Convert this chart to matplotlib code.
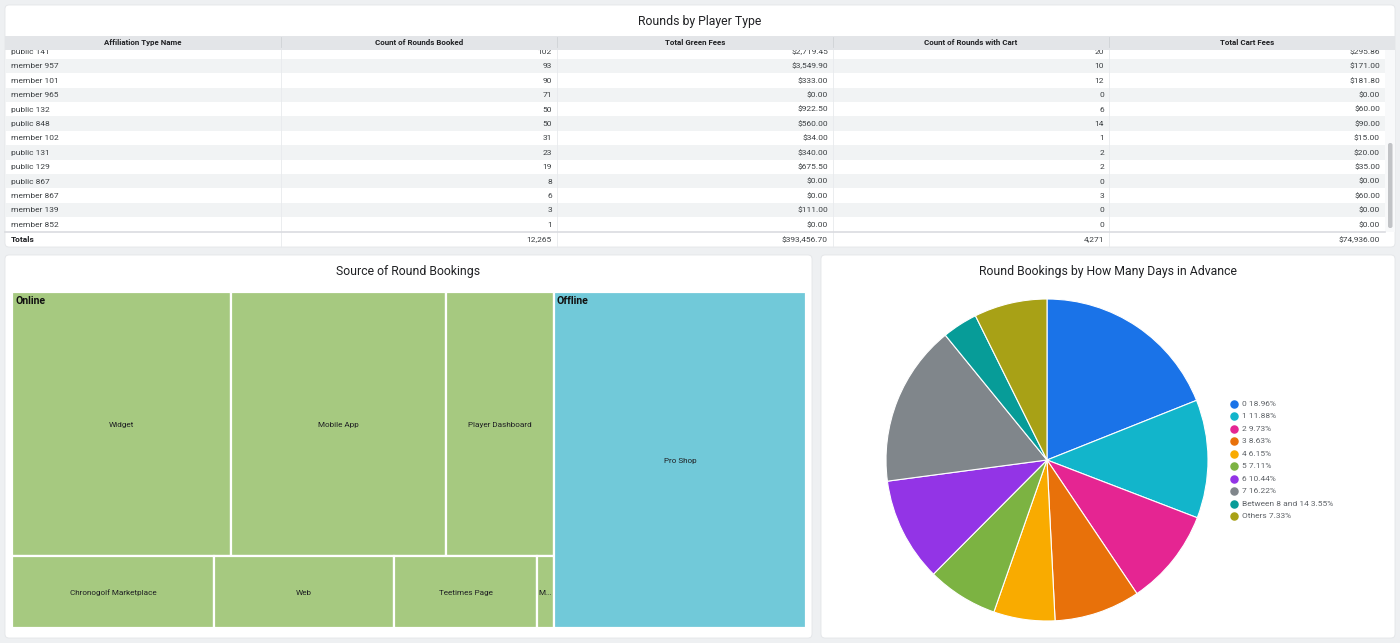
import matplotlib
matplotlib.use("Agg")
import matplotlib.pyplot as plt
from matplotlib.patches import FancyBboxPatch, Rectangle

plt.rcParams['font.family'] = ['Roboto', 'DejaVu Sans']

# ---- table data ----
headers = ["Affiliation Type Name", "Count of Rounds Booked", "Total Green Fees",
           "Count of Rounds with Cart", "Total Cart Fees"]
names = ["public 141", "member 957", "member 101", "member 965", "public 132", "public 848",
         "member 102", "public 131", "public 129", "public 867", "member 867", "member 139",
         "member 852"]
rounds = [102, 93, 90, 71, 50, 50, 31, 23, 19, 8, 6, 3, 1]
green_fees = [2719.45, 3549.90, 333.00, 0.00, 922.50, 560.00, 34.00, 340.00, 675.50,
              0.00, 0.00, 111.00, 0.00]
cart_rounds = [20, 10, 12, 0, 6, 14, 1, 2, 2, 0, 3, 0, 0]
cart_fees = [295.86, 171.00, 181.80, 0.00, 60.00, 90.00, 15.00, 20.00, 35.00,
             0.00, 60.00, 0.00, 0.00]
totals = ["Totals", "12,265", "$393,456.70", "4,271", "$74,936.00"]

# ---- treemap data ----
online_rows = [["Widget", "Mobile App", "Player Dashboard"],
               ["Chronogolf Marketplace", "Web", "Teetimes Page", "M..."]]
online_vals = [[2659, 2610, 1311], [668, 595, 473, 56]]
offline_labels = ["Pro Shop"]
offline_vals = [3893]

# ---- pie data ----
pie_labels = ["0", "1", "2", "3", "4", "5", "6", "7", "Between 8 and 14", "Others"]
pie_pct = [18.96, 11.88, 9.73, 8.63, 6.15, 7.11, 10.44, 16.22, 3.55, 7.33]
pie_colors = ["#1a73e8", "#12b5cb", "#e52592", "#e8710a", "#f9ab00", "#7cb342",
              "#9334e6", "#80868b", "#079c98", "#a8a116"]

W, H = 1400, 643
fig = plt.figure(figsize=(W / 100, H / 100), dpi=100, facecolor="#eef0f2")
bg = fig.add_axes([0, 0, 1, 1])
bg.set_xlim(0, W)
bg.set_ylim(H, 0)
bg.axis("off")

def panel(x0, y0, x1, y1):
    bg.add_patch(FancyBboxPatch((x0, y0), x1 - x0, y1 - y0,
                                boxstyle="round,pad=0,rounding_size=4",
                                fc="white", ec="#e3e5e8", lw=0.6, zorder=1))

panel(5, 5, 1395, 247)
panel(5, 255, 812, 638)
panel(821, 255, 1395, 638)

title_kw = dict(ha="center", va="center", fontsize=8.8, color="#202124", zorder=10)
bg.text(700, 21.5, "Rounds by Player Type", **title_kw)
bg.text(408, 271.5, "Source of Round Bookings", **title_kw)
bg.text(1108, 271.5, "Round Bookings by How Many Days in Advance", **title_kw)

# ---- table ----
col_edges = [5, 281, 557, 833, 1109, 1385]
row_h = 14.41
first_y = 51.6
txt = dict(fontsize=6.0, color="#3c4043", va="center", zorder=4)

def money(v):
    return "${:,.2f}".format(v)

for i, name in enumerate(names):
    yc = first_y + i * row_h
    if i % 2 == 1:
        bg.add_patch(Rectangle((5, yc - row_h / 2), 1380, row_h, fc="#f1f3f4",
                               ec="none", zorder=2))
    cells = [name, str(rounds[i]), money(green_fees[i]), str(cart_rounds[i]),
             money(cart_fees[i])]
    for j, c in enumerate(cells):
        if j == 0:
            bg.text(col_edges[0] + 6, yc + 0.3, c, ha="left", **txt)
        else:
            bg.text(col_edges[j + 1] - 5, yc + 0.3, c, ha="right", **txt)

for x in col_edges[1:-1]:
    bg.plot([x, x], [36, 247], color="#e8eaed", lw=0.6, zorder=3)

# header (drawn on top, hides the scrolled row)
bg.add_patch(Rectangle((5, 35.5), 1390, 14.3, fc="#e3e5e8", ec="none", zorder=5))
for j, h in enumerate(headers):
    xc = (col_edges[j] + col_edges[j + 1]) / 2
    bg.text(xc, 42.5, h, ha="center", va="center", fontsize=5.7, fontweight="bold",
            color="#202124", zorder=6)
for x in col_edges[1:-1]:
    bg.plot([x, x], [37, 47], color="#cfd2d6", lw=0.6, zorder=6)

# totals
bg.plot([5, 1385], [232, 232], color="#dadce0", lw=1.2, zorder=4)
for j, c in enumerate(totals):
    if j == 0:
        bg.text(col_edges[0] + 6, 239.5, c, ha="left", fontweight="bold",
                fontsize=6.0, color="#202124", va="center", zorder=4)
    else:
        bg.text(col_edges[j + 1] - 5, 239.5, c, ha="right", **txt)

# scrollbar
bg.add_patch(Rectangle((1385, 50), 10, 182, fc="#f8f9fa", ec="none", zorder=3))
bg.add_patch(FancyBboxPatch((1388, 143), 4.5, 85, boxstyle="round,pad=0,rounding_size=2",
                            fc="#c1c3c6", ec="none", zorder=4))

# ---- treemap ----
tx0, ty0, tw, th = 12, 292, 794, 336
online_total = sum(sum(r) for r in online_vals)
grand = online_total + sum(offline_vals)
online_w = tw * online_total / grand
green, cyan = "#a6c980", "#71c9d9"
lab_kw = dict(ha="center", va="center", fontsize=5.9, color="#202124", zorder=3)

y = ty0
for labels, vals in zip(online_rows, online_vals):
    rh = th * sum(vals) / online_total
    x = tx0
    for lab, v in zip(labels, vals):
        cw = online_w * v / sum(vals)
        bg.add_patch(Rectangle((x, y), cw, rh, fc=green, ec="white", lw=1.6, zorder=2))
        bg.text(x + cw / 2, y + rh / 2 + 1, lab, **lab_kw)
        x += cw
    y += rh

x = tx0 + online_w
off_w = tw - online_w
y = ty0
for lab, v in zip(offline_labels, offline_vals):
    rh = th * v / sum(offline_vals)
    bg.add_patch(Rectangle((x, y), off_w, rh, fc=cyan, ec="white", lw=1.6, zorder=2))
    bg.text(x + off_w / 2, y + rh / 2 + 1, lab, **lab_kw)
    y += rh

bg.text(tx0 + 3, ty0 + 9.5, "Online", fontsize=7.6, fontweight="bold", color="#111111",
        va="center", ha="left", zorder=4)
bg.text(tx0 + online_w + 3, ty0 + 9.5, "Offline", fontsize=7.6, fontweight="bold",
        color="#111111", va="center", ha="left", zorder=4)

# ---- pie ----
cx, cy, r = 1047, 460, 161
pax = fig.add_axes([(cx - r) / W, (H - cy - r) / H, 2 * r / W, 2 * r / H])
pax.pie(pie_pct, colors=pie_colors, startangle=90, counterclock=False,
        wedgeprops=dict(edgecolor="white", linewidth=0.8))
pax.set_xlim(-1, 1)
pax.set_ylim(-1, 1)
pax.set_aspect("auto")
pax.axis("off")

for i, (lab, p, c) in enumerate(zip(pie_labels, pie_pct, pie_colors)):
    yy = 404 + i * 12.45
    bg.scatter([1234], [yy], s=26, color=c, zorder=5)
    bg.text(1242, yy, f"{lab} {p:.2f}%", fontsize=6.0, color="#5f6368",
            va="center", ha="left", zorder=5)

fig.savefig("out.png", dpi=100, facecolor=fig.get_facecolor())
